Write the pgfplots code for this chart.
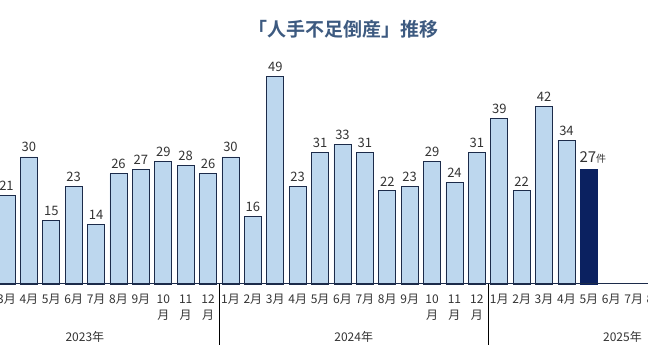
\documentclass[border=0pt]{standalone}
\usepackage{pgfplots}
\pgfplotsset{compat=1.18}
\usepackage{fontspec}
\setmainfont{Noto Sans CJK JP}
\newfontfamily\boldcjk{Noto Sans CJK JP}[BoldFont={* Bold}]
\definecolor{barfill}{HTML}{BDD7EE}
\definecolor{baredge}{HTML}{1C2B4A}
\definecolor{hibar}{HTML}{0B2160}
\definecolor{titlecol}{HTML}{3D5A80}
\definecolor{txt}{HTML}{333333}
\begin{document}
\begin{tikzpicture}
\useasboundingbox (0pt,0pt) rectangle (648pt,364pt);
\clip (0pt,0pt) rectangle (648pt,364pt);
\begin{axis}[
  at={(0pt,80pt)}, anchor=south west,
  scale only axis, width=648pt, height=211.75pt,
  xmin=-0.29, xmax=28.64, ymin=0, ymax=50,
  axis lines=none, clip=false,
  xtick=\empty, ytick=\empty,
  /pgf/number format/assume math mode=true,
]
\addplot[ybar, bar width=17pt, fill=barfill, draw=baredge, line width=0.9pt,
  nodes near coords, every node near coord/.style={font=\fontsize{13}{13}\selectfont, text=txt, yshift=1pt}]
 coordinates {
 (0,21)(1,30)(2,15)(3,23)(4,14)(5,26)(6,27)(7,29)(8,28)(9,26)
 (10,30)(11,16)(12,49)(13,23)(14,31)(15,33)(16,31)(17,22)(18,23)(19,29)(20,24)(21,31)
 (22,39)(23,22)(24,42)(25,34)};
\addplot[ybar, bar width=17pt, fill=hibar, draw=hibar, line width=0.9pt] coordinates {(26,27)};
\node[anchor=south, font=\fontsize{15}{15}\selectfont, text=txt, inner sep=0pt] at (axis cs:26,27) [yshift=6pt, xshift=4pt] {27\fontsize{10}{10}\selectfont 件};
% baseline
\draw[baredge, line width=1pt] (axis cs:-1,0) -- (axis cs:29,0);
% year separators
\draw[black, line width=1pt] (axis cs:9.5,0) -- ++(0pt,-61pt);
\draw[black, line width=1pt] (axis cs:21.5,0) -- ++(0pt,-61pt);
% month labels
\foreach \i/\m in {0/3,1/4,2/5,3/6,4/7,5/8,6/9,10/1,11/2,12/3,13/4,14/5,15/6,16/7,17/8,18/9,22/1,23/2,24/3,25/4,26/5,27/6,28/7,29/8}{
  \edef\temp{\noexpand\node[font=\noexpand\fontsize{12}{12}\noexpand\selectfont, text=txt, inner sep=0pt] at (axis cs:\i,0) [yshift=-15pt] {\m 月};}
  \temp
}
\foreach \i/\m in {7/10,8/11,9/12,19/10,20/11,21/12}{
  \edef\temp{\noexpand\node[font=\noexpand\fontsize{12}{12}\noexpand\selectfont, text=txt, inner sep=0pt] at (axis cs:\i,0) [yshift=-15pt] {\m};
  \noexpand\node[font=\noexpand\fontsize{12}{12}\noexpand\selectfont, text=txt, inner sep=0pt] at (axis cs:\i,0) [yshift=-31pt] {月};}
  \temp
}
% year labels
\node[font=\fontsize{12}{12}\selectfont, text=txt, inner sep=0pt] at (axis cs:3.5,0) [yshift=-53pt] {2023年};
\node[font=\fontsize{12}{12}\selectfont, text=txt, inner sep=0pt] at (axis cs:15.5,0) [yshift=-53pt] {2024年};
\node[font=\fontsize{12}{12}\selectfont, text=txt, inner sep=0pt] at (axis cs:27.5,0) [yshift=-53pt] {2025年};
\end{axis}
\node[font=\boldcjk\bfseries\fontsize{19}{19}\selectfont, text=titlecol, inner sep=0pt] at (343pt,335pt) {「人手不足倒産」推移};
\end{tikzpicture}
\end{document}
